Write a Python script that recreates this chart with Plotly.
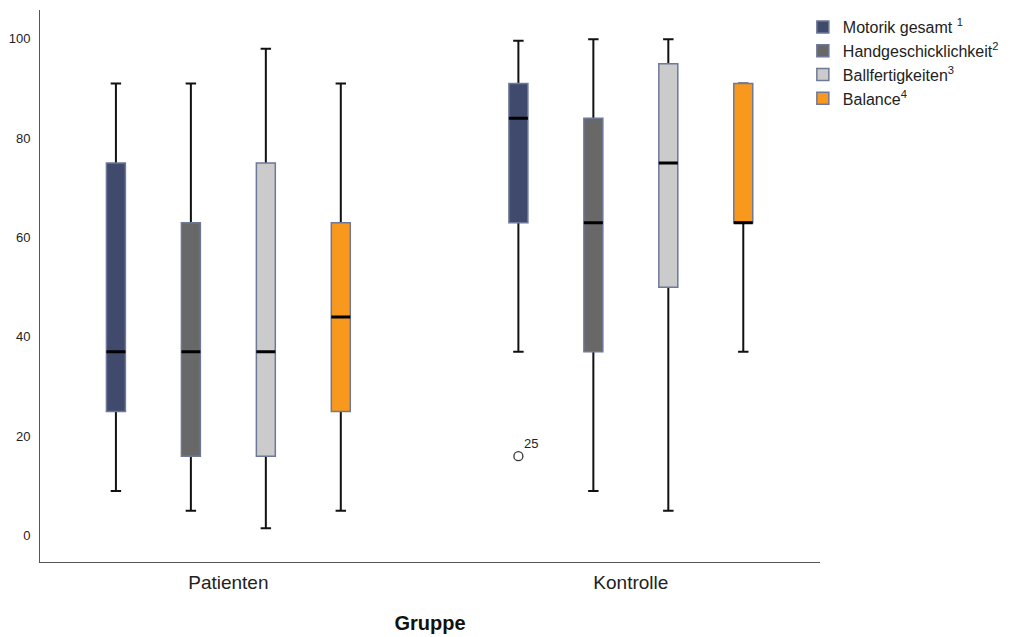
import plotly.graph_objects as go

# ---------------- data ----------------
categories = ["Patienten", "Kontrolle"]
series = ["Motorik gesamt", "Handgeschicklichkeit", "Ballfertigkeiten", "Balance"]
legend_sup = ["1", "2", "3", "4"]
fill_colors = ["#3f4a6d", "#686868", "#cbcbcb", "#f8991d"]

q1 = {
    "Motorik gesamt": [25, 63],
    "Handgeschicklichkeit": [16, 37],
    "Ballfertigkeiten": [16, 50],
    "Balance": [25, 63],
}
median = {
    "Motorik gesamt": [37, 84],
    "Handgeschicklichkeit": [37, 63],
    "Ballfertigkeiten": [37, 75],
    "Balance": [44, 63],
}
q3 = {
    "Motorik gesamt": [75, 91],
    "Handgeschicklichkeit": [63, 84],
    "Ballfertigkeiten": [75, 95],
    "Balance": [63, 91],
}
lower = {
    "Motorik gesamt": [9, 37],
    "Handgeschicklichkeit": [5, 9],
    "Ballfertigkeiten": [1.5, 5],
    "Balance": [5, 37],
}
upper = {
    "Motorik gesamt": [91, 99.6],
    "Handgeschicklichkeit": [91, 99.9],
    "Ballfertigkeiten": [98, 99.9],
    "Balance": [91, 91],
}
# outliers: (series, category, value, case label)
outlier_series = ["Motorik gesamt"]
outlier_category = ["Kontrolle"]
outlier_values = [16]
outlier_labels = ["25"]

yticks = [0, 20, 40, 60, 80, 100]

# ---------------- layout params ----------------
BOXGAP = 0.255
BOXGROUPGAP = 0.747
XRANGE = [-0.468, 1.47]
OUTLINE = "#6e7898"
FONT = "Liberation Sans, Arial, sans-serif"

fig = go.Figure()

# 1) whiskers (black), degenerate box at the median
for s in series:
    fig.add_trace(go.Box(
        x=categories, offsetgroup=s,
        q1=median[s], median=median[s], q3=median[s],
        lowerfence=lower[s], upperfence=upper[s],
        line=dict(color="#111111", width=2), fillcolor="rgba(0,0,0,0)",
        whiskerwidth=0.55, boxpoints=False,
        showlegend=False, hoverinfo="skip",
    ))

# 2) filled boxes with slate outline (legend entries)
for s, sup, c in zip(series, legend_sup, fill_colors):
    sep = " " if s == "Motorik gesamt" else ""
    fig.add_trace(go.Box(
        x=categories, offsetgroup=s, name=s + sep + "<sup>" + sup + "</sup>",
        q1=q1[s], median=median[s], q3=q3[s],
        lowerfence=q1[s], upperfence=q3[s],
        line=dict(color=OUTLINE, width=1.5), fillcolor=c,
        whiskerwidth=0, boxpoints=False, showlegend=True,
    ))

# 3) median lines (black, thick)
for s in series:
    fig.add_trace(go.Box(
        x=categories, offsetgroup=s,
        q1=median[s], median=median[s], q3=median[s],
        lowerfence=median[s], upperfence=median[s],
        line=dict(color="#000000", width=3), fillcolor="rgba(0,0,0,0)",
        whiskerwidth=0, boxpoints=False, showlegend=False, hoverinfo="skip",
    ))

# outliers drawn on an overlaid numeric axis at the box slot position
n = len(series)
slot = (1 - BOXGAP) / n
ox, oy = [], []
for s, cat, v, lab in zip(outlier_series, outlier_category, outlier_values, outlier_labels):
    si = series.index(s)
    ci = categories.index(cat)
    off = -(1 - BOXGAP) / 2 + (si + 0.5) * slot
    ox.append(ci + off)
    oy.append(v)
    fig.add_annotation(x=ci + off, y=v, xref="x2", yref="y", text=lab, showarrow=False,
                       xanchor="left", yanchor="bottom", xshift=4, yshift=3,
                       font=dict(family=FONT, size=13, color="#222222"))
fig.add_trace(go.Scatter(
    x=ox, y=oy, xaxis="x2", yaxis="y", mode="markers",
    marker=dict(symbol="circle-open", size=9, color="#333333",
                line=dict(width=1.3, color="#333333")),
    showlegend=False, hoverinfo="skip",
))

fig.update_layout(
    width=1017, height=637,
    margin=dict(l=40, r=197, t=10, b=75),
    paper_bgcolor="white", plot_bgcolor="white",
    boxmode="group", boxgap=BOXGAP, boxgroupgap=BOXGROUPGAP,
    font=dict(family=FONT, color="#222222"),
    legend=dict(x=0.978, y=1.0, xanchor="left", yanchor="top",
                font=dict(family=FONT, size=16, color="#222222"),
                tracegroupgap=0, itemwidth=30, bgcolor="rgba(0,0,0,0)"),
    xaxis=dict(type="category", range=XRANGE, showline=True, automargin=False,
               linecolor="#555555", linewidth=1, ticks="", showgrid=False,
               zeroline=False, tickfont=dict(family=FONT, size=19, color="#222222"),
               ticklabelstandoff=3,
               title=dict(text="<b>Gruppe</b>", font=dict(family=FONT, size=20, color="#111111"),
                          standoff=24)),
    xaxis2=dict(overlaying="x", range=XRANGE, visible=False, showgrid=False, zeroline=False),
    yaxis=dict(range=[-5.3, 105.8], tickvals=yticks, showline=True, automargin=False,
               linecolor="#555555", linewidth=1, ticks="", showgrid=False,
               zeroline=False, tickfont=dict(family=FONT, size=13, color="#222222"),
               ticklabelstandoff=6),
)

fig.write_html("out.html")
